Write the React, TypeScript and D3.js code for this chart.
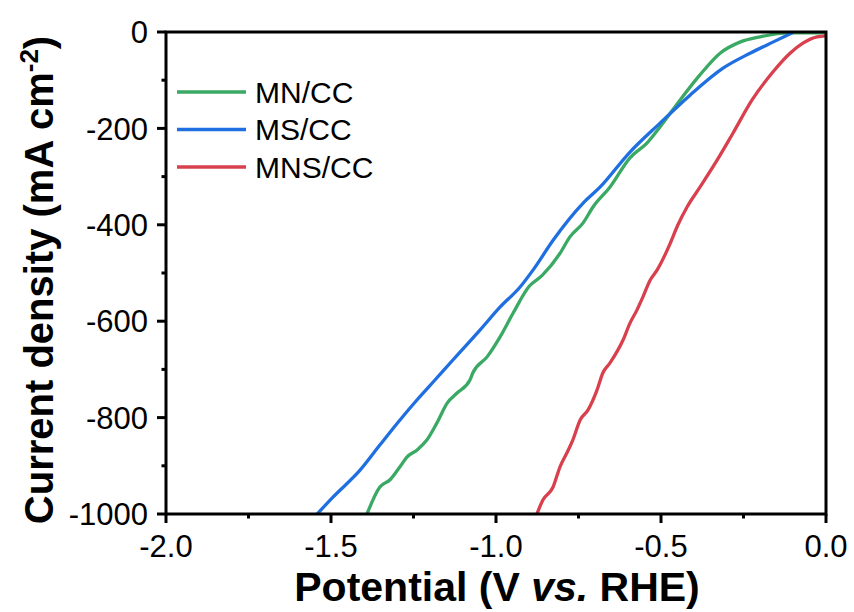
import React from 'react';
import * as d3 from 'd3';

// LSV curves, [potential (V vs RHE), current density (mA cm-2)]
const mnCC: [number, number][] = [
  [-1.391, -1000], [-1.352, -944], [-1.321, -929], [-1.291, -902], [-1.27, -882],
  [-1.239, -867], [-1.209, -846], [-1.179, -811], [-1.148, -770], [-1.118, -749],
  [-1.079, -722], [-1.07, -707], [-1.027, -674], [-0.988, -633], [-0.948, -583],
  [-0.9, -528], [-0.86, -505], [-0.806, -459], [-0.776, -425], [-0.736, -396],
  [-0.706, -363], [-0.655, -322], [-0.594, -261], [-0.542, -230], [-0.503, -197],
  [-0.442, -141], [-0.382, -89], [-0.321, -44], [-0.261, -21], [-0.2, -10],
  [-0.109, -2], [0, -2],
];
const msCC: [number, number][] = [
  [-1.542, -1000], [-1.494, -965], [-1.412, -909], [-1.352, -857], [-1.291, -805],
  [-1.239, -763], [-1.185, -722], [-1.13, -680], [-1.048, -618], [-0.988, -571],
  [-0.927, -529], [-0.888, -494], [-0.827, -432], [-0.736, -355], [-0.685, -322],
  [-0.594, -249], [-0.503, -189], [-0.412, -131], [-0.312, -75], [-0.23, -44],
  [-0.161, -21], [-0.1, -1],
];
const mnsCC: [number, number][] = [
  [-0.876, -1000], [-0.858, -971], [-0.827, -944], [-0.806, -902], [-0.785, -873],
  [-0.767, -846], [-0.745, -805], [-0.721, -784], [-0.694, -743], [-0.676, -707],
  [-0.655, -687], [-0.615, -639], [-0.594, -604], [-0.573, -577], [-0.555, -550],
  [-0.533, -515], [-0.512, -494], [-0.473, -440], [-0.45, -402], [-0.421, -363],
  [-0.382, -322], [-0.33, -266], [-0.282, -210], [-0.224, -141], [-0.161, -83],
  [-0.109, -44], [-0.07, -23], [-0.027, -10], [0, -8],
];

const seriesNames = ['MN/CC', 'MS/CC', 'MNS/CC'];
const seriesColors = ['#3aa964', '#1f6fe0', '#d8404e'];
const xTicks = [-2, -1.5, -1, -0.5, 0];
const xMinor = [-1.75, -1.25, -0.75, -0.25];
const yTicks = [0, -200, -400, -600, -800, -1000];
const yMinor = [-100, -300, -500, -700, -900];

const W = 854, H = 612;
const margin = { left: 166, right: 28, top: 32, bottom: 98 };
const font = 'Arial, "Liberation Sans", sans-serif';

export default function App() {
  const x = d3.scaleLinear().domain([-2, 0]).range([margin.left, W - margin.right]);
  const y = d3.scaleLinear().domain([-1000, 0]).range([H - margin.bottom, margin.top]);
  const line = d3.line<[number, number]>()
    .x(d => x(d[0]))
    .y(d => y(d[1]))
    .curve(d3.curveMonotoneX);
  const data = [mnCC, msCC, mnsCC];
  const x0 = margin.left, x1 = W - margin.right, y0 = H - margin.bottom, y1 = margin.top;

  return (
    <svg width={W} height={H} style={{ position: 'absolute', left: 0, top: 0, background: '#fff' }} fontFamily={font}>
      <defs>
        <clipPath id="plot">
          <rect x={x0} y={y1 - 2} width={x1 - x0} height={y0 - y1 + 2} />
        </clipPath>
      </defs>

      <g clipPath="url(#plot)" fill="none" strokeWidth={3.3} strokeLinejoin="round">
        {data.map((d, i) => (
          <path key={i} d={line(d) || ''} stroke={seriesColors[i]} />
        ))}
      </g>

      {/* frame */}
      <rect x={x0} y={y1} width={x1 - x0} height={y0 - y1} fill="none" stroke="#000" strokeWidth={3} />

      {/* y axis */}
      {yTicks.map(t => (
        <g key={t}>
          <line x1={x0 - 9} x2={x0} y1={y(t)} y2={y(t)} stroke="#000" strokeWidth={3} />
          <text x={148} y={y(t)} dy="0.36em" textAnchor="end" fontSize={31}>{t}</text>
        </g>
      ))}
      {yMinor.map(t => (
        <line key={t} x1={x0 - 4.5} x2={x0} y1={y(t)} y2={y(t)} stroke="#000" strokeWidth={3} />
      ))}

      {/* x axis */}
      {xTicks.map(t => (
        <g key={t}>
          <line x1={x(t)} x2={x(t)} y1={y0} y2={y0 + 9} stroke="#000" strokeWidth={3} />
          <text x={x(t)} y={557} textAnchor="middle" fontSize={31}>{t.toFixed(1)}</text>
        </g>
      ))}
      {xMinor.map(t => (
        <line key={t} x1={x(t)} x2={x(t)} y1={y0} y2={y0 + 4.5} stroke="#000" strokeWidth={3} />
      ))}

      <text x={497} y={601} textAnchor="middle" fontSize={41} fontWeight="bold">
        Potential (V <tspan fontStyle="italic">vs.</tspan> RHE)
      </text>
      <text transform="translate(53,280) rotate(-90)" textAnchor="middle" fontSize={40} fontWeight="bold">
        Current density (mA cm<tspan fontSize={26} dy={-15}>-2</tspan><tspan dy={15}>)</tspan>
      </text>

      {/* legend */}
      {seriesNames.map((n, i) => (
        <g key={n}>
          <line x1={177} x2={246} y1={92 + i * 37.5} y2={92 + i * 37.5} stroke={seriesColors[i]} strokeWidth={3.3} />
          <text x={255} y={92 + i * 37.5} dy="0.36em" fontSize={30}>{n}</text>
        </g>
      ))}
    </svg>
  );
}
